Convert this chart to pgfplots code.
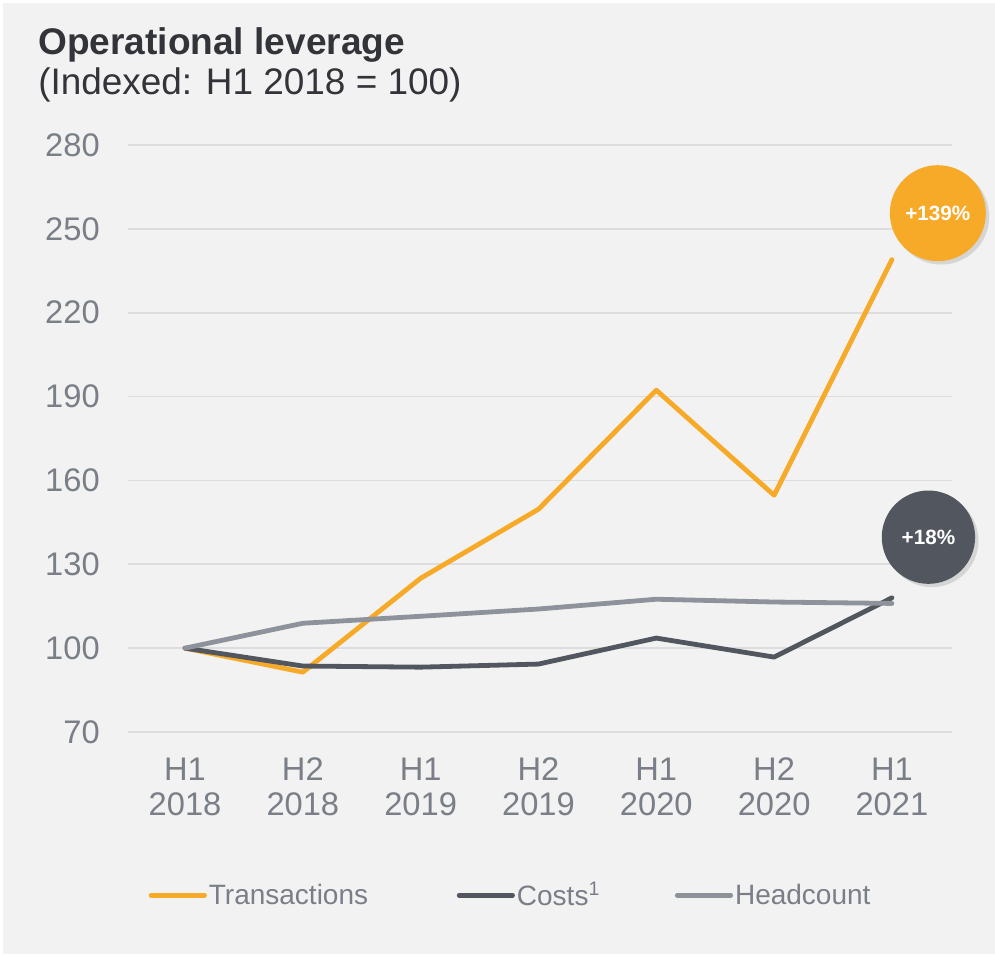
\documentclass[border=0pt]{standalone}
\usepackage{pgfplots}
\pgfplotsset{compat=1.18}
\usepackage{fontspec}
\setmainfont{Liberation Sans}
\usetikzlibrary{shadows}
\definecolor{bg}{HTML}{F2F2F2}
\definecolor{orangec}{HTML}{F7A928}
\definecolor{darkc}{HTML}{52565E}
\definecolor{lightc}{HTML}{8E939B}
\definecolor{tickc}{HTML}{7A7E87}
\definecolor{gridc}{HTML}{DDDDE0}
\definecolor{titlec}{HTML}{333439}
\begin{document}
\begin{tikzpicture}[x=0.75pt,y=0.75pt]
\useasboundingbox (0,0) rectangle (995,954);
\fill[white] (0,0) rectangle (995,954);
\fill[bg] (3,0) rectangle (995,951);
\node[anchor=base west, inner sep=0, text=titlec, font=\fontsize{27.8}{30}\selectfont\bfseries] at (38,899) {Operational leverage};
\node[anchor=base west, inner sep=0, text=titlec, font=\fontsize{27.7}{30}\selectfont] at (38,859) {(Indexed: H1 2018 = 100)};
\begin{axis}[
  at={(96pt,166.5pt)}, anchor=south west,
  scale only axis, width=618pt, height=440.25pt,
  xmin=-0.484, xmax=6.51, ymin=70, ymax=280,
  ytick={70,100,...,280},
  xtick={0,...,6},
  xticklabels={{H1\\2018},{H2\\2018},{H1\\2019},{H2\\2019},{H1\\2020},{H2\\2020},{H1\\2021}},
  axis line style={draw=none},
  major tick length=0pt,
  ymajorgrids, grid style={gridc, line width=1.2pt},
  /pgf/number format/assume math mode=true,
  yticklabel style={font=\fontsize{24.5}{26}\selectfont, text=tickc, anchor=east, inner sep=0pt, xshift=-21pt},
  xticklabel style={font=\fontsize{24.5}{26.5}\selectfont, text=tickc, align=center, anchor=north, inner sep=0pt, yshift=-19pt},
  clip=false,
  legend style={at={(axis description cs:0.02,-0.278)}, anchor=west, draw=none, fill=none,
    legend columns=3, font=\fontsize{21}{24}\selectfont, text=tickc,
    nodes={inner sep=1.5pt},
    /tikz/every even column/.append style={column sep=65pt}},
  legend cell align=left,
  legend image code/.code={\draw[#1, line width=3.6pt, line cap=round] (0pt,0pt) -- (40pt,0pt);},
  every axis plot/.append style={line width=3.6pt, line cap=round, line join=round},
]
\addplot[orangec] coordinates {(0,100) (1,91.4) (2,125) (3,149.7) (4,192.3) (5,154.7) (6,239)};
\addlegendentry{Transactions}
\addplot[darkc] coordinates {(0,100) (1,93.6) (2,93.2) (3,94.3) (4,103.6) (5,96.8) (6,118)};
\addlegendentry{\makebox[52pt][l]{Costs\textsuperscript{1}}}
\addplot[lightc] coordinates {(0,100) (1,108.9) (2,111.4) (3,114) (4,117.5) (5,116.5) (6,116)};
\addlegendentry{Headcount}
\node[circle, fill=orangec, minimum size=72pt, inner sep=0pt, text=white,
  font=\fontsize{15.5}{17}\selectfont\bfseries,
  drop shadow={opacity=0.25, shadow xshift=2.5pt, shadow yshift=-2.5pt}] at (axis cs:6.39,255.6) {+139\%};
\node[circle, fill=darkc, minimum size=70pt, inner sep=0pt, text=white,
  font=\fontsize{15.5}{17}\selectfont\bfseries,
  drop shadow={opacity=0.25, shadow xshift=2.5pt, shadow yshift=-2.5pt}] at (axis cs:6.31,139.7) {+18\%};
\end{axis}
\end{tikzpicture}
\end{document}
